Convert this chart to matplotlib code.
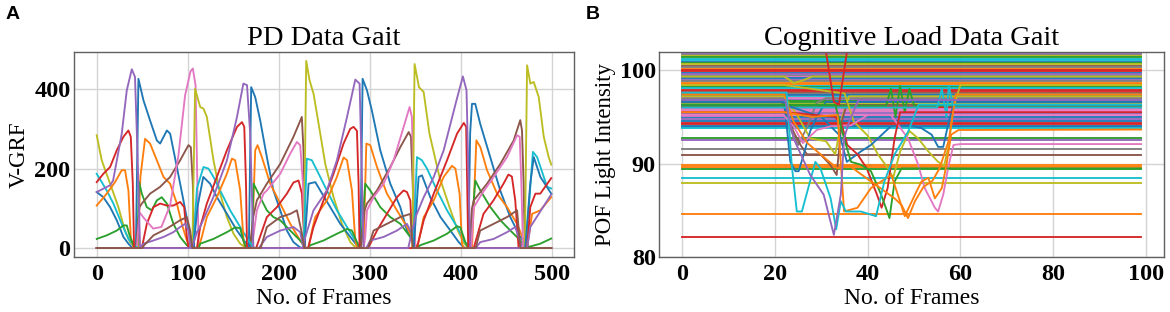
import matplotlib
matplotlib.use("Agg")
import matplotlib.pyplot as plt

# ---------------- Panel A: PD data gait (V-GRF per sensor) ----------------
# foot B sensors
pd_blue_1 = [(0, 0), (43, 0), (45.8, 426), (51.3, 372), (58.6, 321), (66, 271), (69.6, 263), (77, 296),
             (80.6, 288), (88, 204), (95.2, 120), (100.7, 53), (104.4, 11), (108, 0), (167, 0), (169.6, 405),
             (174, 380), (179.5, 321), (186.8, 229), (194, 145), (201.5, 95), (208.8, 44), (216, 15), (223, 2),
             (226, 0), (289.5, 0), (291.9, 426), (296.7, 397), (302, 347), (311.3, 246), (322.3, 162),
             (333.3, 103), (340.6, 44), (348, 11), (352, 0), (408, 0), (410, 290), (412, 363), (415.6, 363),
             (421, 313), (432, 229), (443, 145), (454, 78), (465, 28), (472.6, 7), (476, 0), (499, 0)]
pd_orange_1 = [(0, 0), (45, 0), (48, 180), (53.1, 275), (58.6, 263), (66, 221), (73.3, 179), (80.6, 162),
               (88, 112), (93.4, 61), (99, 19), (104.4, 2), (106, 0), (170.3, 0), (174, 246), (176.6, 259),
               (181.3, 229), (190.5, 162), (201.5, 112), (212.5, 61), (223.4, 19), (229, 0), (293, 0),
               (296, 263), (300.3, 259), (307.7, 204), (318.6, 137), (329.6, 95), (340.6, 53), (348, 19),
               (352, 0), (412, 0), (416.8, 271), (421.2, 254), (428.5, 196), (439.5, 137), (450.5, 103),
               (461.5, 61), (468.8, 19), (473, 0), (499, 0)]
pd_green_1 = [(0, 0), (44.7, 0), (46.5, 166), (49.5, 137), (55, 103), (60.4, 95), (66, 120), (71.4, 128),
              (77, 112), (84.2, 61), (91.6, 28), (99, 7), (103, 0), (170, 0), (172.2, 162), (179.5, 128),
              (186.8, 95), (194, 78), (201.5, 70), (212.5, 44), (223.4, 19), (230, 0), (290, 0), (294.8, 162),
              (300.3, 145), (311.3, 103), (322.3, 78), (333.3, 61), (344.3, 28), (349.8, 7), (353, 0),
              (410, 0), (415.6, 170), (421.2, 145), (432.2, 103), (443.2, 70), (454.2, 44), (465.2, 19),
              (471, 0), (499, 0)]
pd_red_1 = [(0, 0), (49.5, 0), (55, 61), (62.3, 103), (69.6, 112), (77, 107), (84.2, 107), (91.6, 116),
            (96, 103), (99, 28), (100.7, 0), (175, 0), (186.8, 78), (197.8, 103), (208.8, 137), (216, 165),
            (221.6, 170), (225.3, 137), (228.2, 2), (229, 0), (298, 0), (307.7, 44), (318.6, 86), (329.6, 128),
            (336.9, 145), (340.6, 141), (344.3, 120), (346.9, 0), (413.9, 0), (424.6, 86), (435.6, 120),
            (446.6, 162), (452, 185), (455.8, 180), (459.5, 120), (463.2, 0), (499, 0)]
pd_purple_1 = [(0, 0), (47, 0), (51.3, 11), (62.3, 19), (73.3, 28), (84.2, 40), (91.6, 53), (97, 61),
               (100.7, 44), (103, 0), (178, 0), (186.8, 28), (201.5, 44), (216, 53), (223.4, 40), (227, 0),
               (296, 0), (300.3, 19), (315, 28), (329.6, 44), (340.6, 61), (346, 36), (349, 0), (416, 0),
               (421.2, 15), (435.8, 23), (450.5, 40), (459.5, 53), (465, 15), (468, 0), (499, 0)]
pd_brown_1 = [(0, 0), (43.2, 0), (47, 103), (49.5, 112), (58.6, 137), (69.6, 154), (80.6, 179), (91.6, 221),
              (100.7, 259), (103.3, 254), (105.5, 162), (107, 0), (168, 0), (172, 80), (175.8, 120),
              (186.8, 162), (201.5, 212), (216, 280), (225.2, 330), (227, 246), (228.9, 0), (290, 0),
              (294, 95), (296.7, 112), (307.7, 145), (322.3, 204), (333.3, 254), (342.5, 292), (345, 280),
              (346.9, 162), (348.8, 0), (409, 0), (412, 100), (414, 120), (428.5, 162), (443.2, 212),
              (457.8, 271), (465, 322), (466.9, 296), (468.7, 162), (470, 0), (499, 0)]
pd_pink_1 = [(0, 0), (44, 0), (47, 90), (52, 75), (62, 49), (71, 53), (80.5, 107), (89.7, 233), (97, 384),
             (103, 445), (105.5, 452), (108.5, 410), (110.5, 160), (112, 0), (170.3, 0), (175.8, 95),
             (183.2, 137), (186.8, 145), (201.5, 187), (212.5, 238), (219.8, 267), (223.4, 259), (226.4, 162),
             (228.2, 0), (293, 0), (294.8, 28), (296.7, 95), (303.9, 128), (315, 162), (326, 221), (337, 305),
             (343.5, 355), (346, 330), (347.9, 162), (349.8, 0), (411.1, 0), (414, 103), (423, 137),
             (435.8, 179), (450.5, 229), (461.5, 284), (464.4, 280), (466.2, 162), (468, 0), (499, 0)]
pd_gray_1 = [(0, 0), (499, 0)]

# foot A sensors
pd_olive_2 = [(0, 284), (5.5, 221), (14.7, 162), (23.8, 103), (31, 44), (36.6, 15), (42, 2), (44, 0),
              (105, 0), (108, 401), (113.6, 355), (117.2, 351), (120.9, 330), (128.2, 221), (135.5, 137),
              (142.9, 78), (150.2, 36), (157.5, 11), (163, 2), (165, 0), (227.5, 0), (230, 471), (233.7, 422),
              (238, 389), (243.6, 313), (250.9, 212), (260, 128), (269.2, 61), (278.4, 15), (283.9, 2),
              (286, 0), (346.5, 0), (349, 463), (353.8, 405), (358.9, 393), (365.3, 288), (376.3, 179),
              (387.3, 103), (396.4, 44), (403.7, 11), (407.4, 2), (409, 0), (470, 0), (472.5, 460),
              (476.1, 414), (479.8, 418), (485.3, 380), (490.8, 280), (496.2, 229), (499, 210)]
pd_cyan_2 = [(0, 187), (11, 145), (18.3, 112), (27.5, 61), (34.8, 23), (40.3, 7), (45, 0), (106, 0),
             (110, 150), (117.2, 204), (122.7, 200), (128.2, 179), (135.5, 145), (146.5, 95), (157.5, 53),
             (166.7, 19), (172, 2), (174, 0), (227, 0), (230.7, 225), (236.2, 221), (241.7, 196),
             (252.7, 145), (263.7, 95), (274.8, 53), (283.9, 19), (289.4, 2), (291, 0), (347.5, 0),
             (351.6, 229), (357, 221), (362.6, 200), (373.6, 145), (384.6, 95), (395.6, 53), (403, 19),
             (408.4, 2), (410, 0), (471, 0), (478.9, 242), (483.5, 229), (494.5, 154), (499, 150)]
pd_blue_2 = [(0, 141), (7.3, 128), (14.7, 103), (22, 70), (29.3, 28), (34.8, 11), (38.5, 2), (41, 0),
             (106.2, 0), (110.6, 103), (117, 179), (124.5, 162), (132, 128), (143, 86), (154, 44),
             (163, 15), (168.5, 2), (170, 0), (228, 0), (232.6, 162), (240, 166), (245.4, 145), (256.4, 103),
             (267.4, 61), (278.4, 28), (285.7, 7), (288, 0), (348, 0), (353.4, 179), (357.1, 183),
             (366.2, 128), (377.4, 78), (388.3, 44), (397.4, 15), (403, 2), (405, 0), (470.5, 0),
             (476, 162), (479.8, 229), (487.1, 179), (499, 137)]
pd_orange_2 = [(0, 107), (11, 137), (20.1, 166), (27.5, 196), (31.1, 196), (34.8, 145), (37.4, 28),
               (40.3, 2), (42, 0), (111.7, 0), (115.4, 28), (120.9, 78), (131.9, 128), (142.9, 187),
               (148.4, 225), (152, 221), (157.5, 145), (161.2, 19), (163, 0), (232.6, 0), (236.3, 44),
               (239.9, 78), (252.7, 120), (263.7, 179), (271, 228), (274.8, 221), (280.2, 145), (283.9, 19),
               (286, 0), (351.8, 0), (359, 78), (370, 120), (380.9, 179), (390, 207), (393.8, 200),
               (398.4, 137), (401, 11), (403, 0), (472.5, 0), (478, 86), (487, 95), (499, 128)]
pd_green_2 = [(0, 23), (11, 32), (22, 44), (29.3, 57), (33, 57), (36.6, 28), (40.3, 7), (43, 0), (112, 0),
              (113.6, 11), (128.2, 23), (142.9, 40), (152, 52), (157.5, 50), (161, 19), (164, 0), (232, 0),
              (234.4, 7), (249, 19), (263.7, 36), (274.8, 48), (280.2, 44), (285.7, 15), (289, 0), (352, 0),
              (355, 7), (370, 19), (384.6, 36), (395.6, 55), (399.2, 52), (404.7, 15), (408, 0), (473, 0),
              (476, 4), (487, 11), (499, 24)]
pd_red_2 = [(0, 166), (7.3, 187), (14.7, 204), (22, 246), (29.3, 280), (34.8, 296), (37.4, 280),
            (39.6, 162), (41, 2), (42, 0), (110, 0), (113.6, 53), (120.9, 112), (131.9, 179), (142.9, 246),
            (154, 305), (159.5, 317), (162, 305), (163.9, 162), (165, 0), (232, 0), (238, 53), (249, 120),
            (260, 187), (271, 263), (278.3, 300), (282, 305), (285.7, 295), (287.5, 162), (288.6, 0),
            (351.6, 0), (359, 70), (370, 137), (384.6, 221), (395.6, 288), (403, 315), (405.6, 305),
            (406.7, 162), (407.9, 0), (472.5, 0), (476, 103), (481.6, 137), (487, 137), (499, 176)]
pd_purple_2 = [(0, 141), (14.7, 158), (18, 170), (27.5, 288), (33, 397), (38.5, 450), (42, 431),
               (44.7, 246), (47.6, 2), (49, 0), (104.4, 0), (110, 40), (113.5, 53), (128, 128), (143, 221),
               (154, 330), (161, 414), (165, 410), (168.5, 288), (172, 2), (173, 0), (226, 0), (229, 28),
               (238, 95), (252.7, 145), (263.7, 221), (274.8, 330), (283.9, 424), (288.6, 414), (290.4, 246),
               (293, 2), (294, 0), (342, 0), (344.8, 28), (350, 78), (359, 128), (370, 179), (380.9, 246),
               (395, 372), (402, 432), (406, 397), (407.5, 246), (410, 2), (411, 0), (472.5, 0), (476, 53),
               (499, 135)]
pd_brown_2 = [(0, 0), (50, 0), (52, 7), (62.3, 32), (77, 49), (91.6, 70), (99, 78), (102.6, 44), (105, 0),
              (180, 0), (186.8, 53), (201.5, 78), (212.5, 86), (219.8, 95), (225, 40), (228, 0), (298, 0),
              (303.9, 44), (318.6, 61), (333.3, 78), (344.3, 86), (347, 0), (416, 0), (421, 44),
              (435.8, 61), (450.5, 78), (461.5, 95), (465, 0), (499, 0)]

pd_series = [
    (pd_blue_1, "tab:blue"), (pd_orange_1, "tab:orange"), (pd_green_1, "tab:green"),
    (pd_red_1, "tab:red"), (pd_purple_1, "tab:purple"), (pd_brown_1, "tab:brown"),
    (pd_pink_1, "tab:pink"), (pd_gray_1, "tab:gray"),
    (pd_olive_2, "tab:olive"), (pd_cyan_2, "tab:cyan"), (pd_blue_2, "tab:blue"),
    (pd_orange_2, "tab:orange"), (pd_green_2, "tab:green"), (pd_red_2, "tab:red"),
    (pd_purple_2, "tab:purple"), (pd_brown_2, "tab:brown"),
]

# ---------------- Panel B: cognitive load (POF light intensity) ----------------
pof_flat_levels = [101.95, 101.8, 101.65, 101.5, 101.35, 101.2, 101.05, 100.9, 100.75, 100.6, 100.45,
                   100.3, 100.15, 100.0, 99.85, 99.7, 99.55, 99.4, 99.25, 99.1, 98.95, 98.8, 98.65, 98.5,
                   98.35, 98.2, 98.05, 97.9, 97.75, 97.6, 97.45, 97.3, 97.15, 97.0, 96.85, 96.7, 96.55,
                   96.4, 96.25, 96.1, 95.95, 95.8, 95.65, 95.45, 95.25, 95.0, 94.8, 94.6, 94.4, 94.25,
                   94.05, 93.9, 93.8, 92.7, 92.55, 91.6, 90.9, 89.85, 89.7, 89.4, 88.5, 87.9, 84.65, 82.15]
pof_flat_colors = ["tab:blue", "tab:purple", "tab:gray", "tab:olive", "tab:green", "tab:cyan", "tab:cyan",
                   "tab:blue", "tab:green", "tab:olive", "tab:brown", "tab:gray", "tab:orange", "tab:red",
                   "tab:red", "tab:blue", "tab:purple", "tab:gray", "tab:pink", "tab:blue", "tab:purple",
                   "tab:gray", "tab:orange", "tab:orange", "tab:cyan", "tab:green", "tab:cyan", "tab:red",
                   "tab:red", "tab:brown", "tab:gray", "tab:blue", "tab:cyan", "tab:pink", "tab:purple",
                   "tab:green", "tab:green", "tab:olive", "tab:brown", "tab:red", "tab:red", "tab:pink",
                   "tab:pink", "tab:purple", "tab:pink", "tab:blue", "tab:purple", "tab:blue", "tab:red",
                   "tab:red", "tab:blue", "tab:blue", "tab:cyan", "tab:green", "tab:purple", "tab:gray",
                   "tab:brown", "tab:orange", "tab:orange", "tab:green", "tab:cyan", "tab:olive",
                   "tab:orange", "tab:red"]

pof_purple_dip = [(0, 96.8), (22.2, 96.8), (24, 92.7), (27.6, 88.8), (30.5, 86.7), (32.7, 82.4),
                  (34.2, 86.7), (34.9, 92.7), (36, 94.5), (38, 96.8), (99, 96.8)]
pof_cyan_dip = [(0, 97.6), (22.5, 97.6), (23.6, 89.9), (24.7, 84.9), (25.8, 84.9), (28.7, 90.2),
                (29.8, 89.5), (32, 86.3), (33.2, 83.0), (34.2, 86.0), (35.3, 84.9), (38.5, 84.9),
                (41.8, 84.4), (43.6, 88.1), (45.8, 91), (48.7, 93.4), (51, 96.3), (99, 96.3)]
pof_orange_dip = [(0, 95.5), (22, 95.5), (28, 95), (33.5, 95.2), (34.9, 84.9), (37.8, 85.3), (40.7, 87.4),
                  (42.9, 88.1), (45.1, 88.8), (46.5, 86.7), (48, 84.4), (50.2, 86.7), (51.6, 88.1),
                  (53.1, 88.5), (54.5, 86.3), (56, 87.4), (57, 89.9), (58, 93.1), (59.6, 93.6), (99, 93.65)]
pof_orange_dip_b = [(0, 97.4), (22, 97.4), (24, 94.5), (27, 92.2), (31, 90.5), (33.5, 89.5), (36, 89.8),
                    (45.8, 86.3), (47.3, 85.6), (48.7, 84.2), (50.2, 86.0), (52, 87.5), (54, 88.2),
                    (55.5, 89.5), (57.5, 92.5), (59, 97.4), (99, 97.4)]
pof_green_dip = [(0, 96.3), (33, 96.3), (34.9, 92.7), (36.4, 90.2), (38.5, 89.9), (40.7, 89.2),
                 (42.9, 86.7), (44.7, 84.2), (45.8, 88.1), (47.3, 89.5), (99, 89.5)]
pof_red_spike = [(0, 103.5), (30.5, 103.5), (32.7, 96.6), (33.8, 96.3), (36, 103.5), (99, 103.5)]
pof_red_dip = [(0, 95.5), (22, 95.5), (33, 95.0), (34.5, 94.0), (35.6, 92), (37.8, 91), (39.8, 89.5),
               (42, 86.7), (43, 85.3), (44.3, 87.4), (45.8, 92.7), (47, 95.5), (99, 95.5)]
pof_pink_dip = [(0, 95.1), (22, 95.1), (24, 94), (26, 92.2), (29, 93.6), (32, 94), (36.4, 94.1),
                (40, 95.2), (45, 95.2), (48.7, 92.7), (50.9, 89.9), (52.3, 87.4), (54.5, 85.3),
                (55.2, 84.9), (56.3, 86.7), (57.5, 89.9), (58.5, 92), (60, 92.1), (99, 92.1)]
pof_olive_dip = [(0, 98.4), (22, 98.4), (35, 97.5), (37, 94.5), (40, 93), (42.2, 91), (44.4, 89.5),
                 (45.5, 88.5), (47, 91.3), (49, 93.5), (50.9, 92.7), (53.1, 91.3), (55.2, 90.2),
                 (56.5, 89.8), (57.5, 92), (58.5, 96), (60, 98.4), (99, 98.4)]
pof_blue_dip = [(0, 96.3), (22, 96.3), (30, 95), (34, 93), (35.5, 90.2), (38.5, 91.3), (40.7, 92),
                (42.2, 92.7), (45, 94), (48.7, 94.1), (51.6, 93.8), (53.8, 93.1), (55.2, 91.8),
                (56.3, 91.8), (57.5, 94.5), (58.5, 96.3), (99, 96.3)]
pof_blue_dip_b = [(0, 96.6), (22, 96.6), (23.3, 90.2), (24.4, 89.2), (25.1, 89.2), (26.2, 91),
                  (27.6, 93.5), (29, 95), (31, 96.6), (99, 96.6)]
pof_brown_dip = [(0, 96.6), (21.5, 96.6), (24, 93.4), (25.5, 92), (26.9, 91), (29.8, 91), (31.9, 89.9),
                 (33.3, 88.8), (34.4, 94.5), (35.6, 96.6), (99, 96.6)]
pof_olive_dip_b = [(0, 97.2), (22, 97.2), (25, 95), (27.6, 92.7), (31, 92.4), (33, 91), (34.5, 95),
                   (36, 97.2), (99, 97.2)]
pof_gray_dip = [(0, 97.0), (22, 97.0), (23.5, 93.5), (25, 92), (27, 94), (29, 96.5), (31, 97.0), (99, 97.0)]
pof_green_zigzag = [(0, 96.2), (44, 96.2), (45, 98), (46, 95), (47, 98.3), (48, 95.5), (49, 98),
                    (50, 96.2), (99, 96.2)]
pof_cyan_zigzag = [(0, 96.0), (55, 96.0), (56, 98), (57, 95), (57.5, 98.3), (58.5, 96), (99, 96.0)]
pof_olive_wiggle = [(0, 99.3), (22, 99.3), (23, 99.0), (24, 98.6), (26, 98.9), (28, 99.3), (99, 99.3)]

pof_dip_series = [
    (pof_gray_dip, "tab:gray"), (pof_olive_wiggle, "tab:olive"), (pof_olive_dip_b, "tab:olive"),
    (pof_brown_dip, "tab:brown"), (pof_blue_dip_b, "tab:blue"), (pof_green_zigzag, "tab:green"),
    (pof_cyan_zigzag, "tab:cyan"), (pof_olive_dip, "tab:olive"), (pof_blue_dip, "tab:blue"),
    (pof_pink_dip, "tab:pink"), (pof_red_dip, "tab:red"), (pof_red_spike, "tab:red"),
    (pof_green_dip, "tab:green"), (pof_orange_dip_b, "tab:orange"), (pof_orange_dip, "tab:orange"),
    (pof_cyan_dip, "tab:cyan"), (pof_purple_dip, "tab:purple"),
]
pof_frame_start, pof_frame_end = 0, 99

# ---------------- Drawing ----------------
plt.rcParams["font.family"] = ["Liberation Serif", "DejaVu Serif"]

fig = plt.figure(figsize=(11.7, 3.12), dpi=100)
axA = fig.add_axes([0.0632, 0.175, 0.4274, 0.659])
axB = fig.add_axes([0.5636, 0.175, 0.4313, 0.659])

LW = 1.35
for pts, col in pd_series:
    axA.plot([p[0] for p in pts], [p[1] for p in pts], color=col, lw=LW)

for lvl, col in zip(pof_flat_levels, pof_flat_colors):
    axB.plot([pof_frame_start, pof_frame_end], [lvl, lvl], color=col, lw=LW)
for pts, col in pof_dip_series:
    axB.plot([p[0] for p in pts], [p[1] for p in pts], color=col, lw=LW)

axA.set_ylim(-23.5, 494)
axA.set_xlim(-25, 524)
axA.set_yticks([0, 200, 400])
axA.set_xticks([0, 100, 200, 300, 400, 500])
axB.set_xlim(-4.95, 103.95)
axB.set_ylim(80, 101.95)
axB.set_yticks([80, 90, 100])
axB.set_xticks([0, 20, 40, 60, 80, 100])

for ax, title, ylab in [(axA, "PD Data Gait", "V-GRF"),
                        (axB, "Cognitive Load Data Gait", "POF Light Intensity")]:
    ax.set_axisbelow(True)
    ax.grid(True, color="#d4d4d4", lw=1.0)
    for sp in ax.spines.values():
        sp.set_color("#606060")
        sp.set_linewidth(1.0)
    ax.tick_params(axis="both", length=0, labelsize=17.5)
    ax.tick_params(axis="x", pad=5)
    ax.tick_params(axis="y", pad=2.5)
    for lab in ax.get_xticklabels() + ax.get_yticklabels():
        lab.set_fontweight("bold")
    ax.set_title(title, fontsize=20.5, pad=5)
    ax.set_xlabel("No. of Frames", fontsize=17, labelpad=2)
    ax.set_ylabel(ylab, fontsize=16.5, labelpad=3)

fig.text(0.005, 0.98, "A", fontsize=14, fontweight="bold", family=["Liberation Sans", "DejaVu Sans"],
         va="top", ha="left")
fig.text(0.5005, 0.98, "B", fontsize=14, fontweight="bold", family=["Liberation Sans", "DejaVu Sans"],
         va="top", ha="left")

fig.savefig("out.png", dpi=100, facecolor="white")
